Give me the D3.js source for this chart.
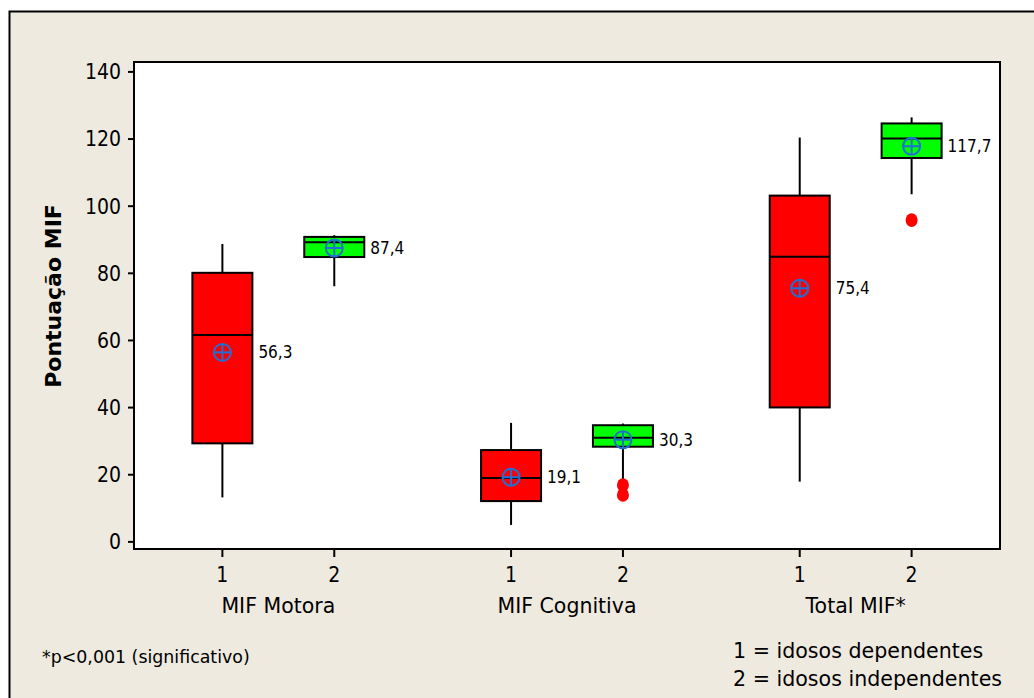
<!DOCTYPE html>
<html>
<head>
<meta charset="utf-8">
<script src="https://cdn.jsdelivr.net/npm/d3@7"></script>
<style>
  html, body { margin: 0; padding: 0; background: #ffffff; }
  svg { display: block; }
  text { font-family: "DejaVu Sans Condensed", "DejaVu Sans", sans-serif; fill: #000; }
  text.wide { font-family: "DejaVu Sans", sans-serif; }
</style>
</head>
<body>
<svg id="chart" width="1034" height="698"></svg>
<script>
// MIF scores by group (1 = dependent elderly, 2 = independent elderly)
const measures = ["MIF Motora", "MIF Cognitiva", "Total MIF*"];
const groups = ["1", "2"];

// Box statistics per measure, ordered [group 1, group 2]
const whiskerLow  = [[13.1, 76.0], [4.9, 18.3], [17.8, 103.4]];
const q1          = [[29.2, 84.7], [12.0, 28.2], [39.9, 114.2]];
const medians     = [[61.5, 89.1], [18.9, 30.9], [84.8, 120.0]];
const q3          = [[80.0, 90.7], [27.2, 34.6], [103.0, 124.5]];
const whiskerHigh = [[88.6, 91.2], [35.3, 35.1], [120.3, 126.3]];
const means       = [[56.3, 87.4], [19.1, 30.3], [75.4, 117.7]];
const outliers    = [[[], []], [[], [16.8, 13.8]], [[], [95.7]]];

const yTicks = [0, 20, 40, 60, 80, 100, 120, 140];
const boxColors = ["#ff0000", "#00ff00"];

const ptFormat = d3.formatLocale({ decimal: ",", thousands: ".", grouping: [3], currency: ["", ""] }).format(".1f");

const svg = d3.select("#chart");
const W = 1034, H = 698;
const plot = { left: 134, top: 62, right: 1000, bottom: 549 };

// Outer panel
svg.append("rect").attr("x", 9.5).attr("y", 11.5).attr("width", W + 10).attr("height", H + 10)
  .attr("fill", "#eeeae0").attr("stroke", "#000").attr("stroke-width", 2);

// Plot area
svg.append("rect").attr("x", plot.left).attr("y", plot.top)
  .attr("width", plot.right - plot.left).attr("height", plot.bottom - plot.top)
  .attr("fill", "#ffffff");

const x0 = d3.scaleBand().domain(measures).range([plot.left, plot.right]).padding(0);
const x1 = d3.scalePoint().domain(groups).range([0, x0.bandwidth()]).padding(0.79);
const y = d3.scaleLinear().domain([-2.27, 142.8]).range([plot.bottom, plot.top]);

const boxW = 60;

// Y axis
const yAxis = d3.axisLeft(y).tickValues(yTicks).tickSize(6).tickPadding(7);
const gy = svg.append("g").attr("transform", `translate(${plot.left},0)`).call(yAxis);
gy.select(".domain").remove();
gy.selectAll(".tick line").attr("stroke", "#000").attr("stroke-width", 2);
gy.selectAll(".tick text").attr("font-size", 21).attr("fill", "#000").attr("dy", "0.35em");

// X axis: group ticks under each box
const xPositions = [];
measures.forEach((m, i) => groups.forEach((g, j) => xPositions.push({ m, g, i, j, x: x0(m) + x1(g) })));

const gx = svg.append("g");
gx.selectAll("line.xt").data(xPositions).join("line")
  .attr("x1", d => d.x).attr("x2", d => d.x)
  .attr("y1", plot.bottom).attr("y2", plot.bottom + 8)
  .attr("stroke", "#000").attr("stroke-width", 2);
gx.selectAll("text.xl").data(xPositions).join("text")
  .attr("x", d => d.x).attr("y", 575).attr("dy", "0.35em")
  .attr("text-anchor", "middle").attr("font-size", 21).text(d => d.g);
gx.selectAll("text.ml").data(measures).join("text")
  .attr("class", "wide")
  .attr("x", d => x0(d) + x0.bandwidth() / 2).attr("y", 606).attr("dy", "0.35em")
  .attr("text-anchor", "middle").attr("font-size", 20.5).text(d => d);

// Boxplots
const boxes = svg.append("g");
xPositions.forEach(p => {
  const { i, j, x } = p;
  const g = boxes.append("g");
  // whiskers
  g.append("line").attr("x1", x).attr("x2", x)
    .attr("y1", y(q3[i][j])).attr("y2", y(whiskerHigh[i][j]))
    .attr("stroke", "#000").attr("stroke-width", 2);
  g.append("line").attr("x1", x).attr("x2", x)
    .attr("y1", y(q1[i][j])).attr("y2", y(whiskerLow[i][j]))
    .attr("stroke", "#000").attr("stroke-width", 2);
  // box
  g.append("rect").attr("x", x - boxW / 2).attr("y", y(q3[i][j]))
    .attr("width", boxW).attr("height", y(q1[i][j]) - y(q3[i][j]))
    .attr("fill", boxColors[j]).attr("stroke", "#000").attr("stroke-width", 2);
  // median
  g.append("line").attr("x1", x - boxW / 2).attr("x2", x + boxW / 2)
    .attr("y1", y(medians[i][j])).attr("y2", y(medians[i][j]))
    .attr("stroke", "#000").attr("stroke-width", 2);
  // outliers
  g.selectAll("ellipse").data(outliers[i][j]).join("ellipse")
    .attr("cx", x).attr("cy", v => y(v)).attr("rx", 6).attr("ry", 6.8)
    .attr("fill", "#ff0000");
  // mean symbol
  const my = y(means[i][j]);
  const r = 8.5;
  g.append("circle").attr("cx", x).attr("cy", my).attr("r", r)
    .attr("fill", "none").attr("stroke", "#1f6fd6").attr("stroke-width", 2);
  g.append("line").attr("x1", x - r).attr("x2", x + r).attr("y1", my).attr("y2", my)
    .attr("stroke", "#1f6fd6").attr("stroke-width", 2);
  g.append("line").attr("x1", x).attr("x2", x).attr("y1", my - r).attr("y2", my + r)
    .attr("stroke", "#1f6fd6").attr("stroke-width", 2);
  // mean label
  g.append("text").attr("x", x + boxW / 2 + 6).attr("y", my).attr("dy", "0.35em")
    .attr("font-size", 17).text(ptFormat(means[i][j]));
});

// Plot frame
svg.append("rect").attr("x", plot.left).attr("y", plot.top)
  .attr("width", plot.right - plot.left).attr("height", plot.bottom - plot.top)
  .attr("fill", "none").attr("stroke", "#000").attr("stroke-width", 2);

// Y axis title
svg.append("text").attr("class", "wide").attr("transform", "translate(53,296) rotate(-90)")
  .attr("text-anchor", "middle").attr("dy", "0.35em")
  .attr("font-size", 22).attr("font-weight", "bold").text("Pontuação MIF");

// Footnotes
svg.append("text").attr("class", "wide").attr("x", 42).attr("y", 657).attr("dy", "0.35em")
  .attr("font-size", 17.4).text("*p<0,001 (significativo)");
svg.append("text").attr("class", "wide").attr("x", 733).attr("y", 651).attr("dy", "0.35em")
  .attr("font-size", 20.6).text("1 = idosos dependentes");
svg.append("text").attr("class", "wide").attr("x", 733).attr("y", 679).attr("dy", "0.35em")
  .attr("font-size", 20.6).text("2 = idosos independentes");
</script>
</body>
</html>
